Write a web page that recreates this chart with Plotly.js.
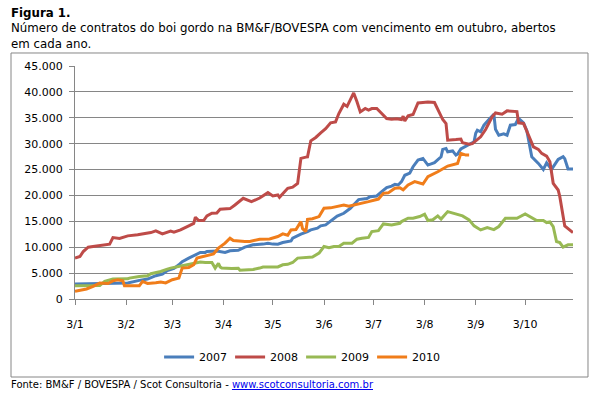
<!DOCTYPE html>
<html><head><meta charset="utf-8">
<script src="https://cdn.plot.ly/plotly-3.0.1.min.js"></script>
<style>html,body{margin:0;padding:0;background:#fff;} #chart{width:595px;height:396px;}</style>
</head><body><div id="chart"></div>
<script>
// Common (overlaid) calendar: day/month of each observation
const dates2007 = ["01-03","01-18","02-04","02-11","02-16","02-21","02-25","02-28","03-04","03-07","03-09","03-13","03-16","03-18","03-20","03-23","03-24","03-30","04-04","04-07","04-12","04-16","04-21","04-27","04-30","05-03","05-06","05-09","05-14","05-15","05-18","05-20","05-24","05-26","05-30","06-01","06-04","06-07","06-11","06-15","06-17","06-19","06-24","06-26","06-29","07-01","07-04","07-05","07-08","07-11","07-14","07-16","07-18","07-20","07-22","07-25","07-27","07-30","08-02","08-05","08-09","08-13","08-14","08-16","08-17","08-20","08-22","08-23","08-25","08-28","08-31","09-02","09-03","09-04","09-06","09-08","09-11","09-12","09-14","09-15","09-17","09-20","09-22","09-24","09-27","09-29","10-02","10-04","10-07","10-11","10-14","10-16","10-19","10-23","10-26","10-27","10-29","11-01"];
const values2007 = [2900,3000,3100,3600,3850,4500,4800,5500,5900,6610,7200,7900,8340,8720,8990,9000,9180,9250,8990,9310,9400,10010,10460,10600,10780,10600,10590,10910,11200,11750,12250,12520,13020,13350,13680,14120,14310,15000,16000,16560,17100,17520,19200,19300,19400,19770,19800,19900,20730,21500,21800,22150,22020,22660,23900,24300,25550,26830,27150,25870,26320,27470,28890,29080,28430,28600,27800,27980,29000,29520,30040,30360,32000,32600,32300,33570,34660,35050,35690,32800,31640,31900,31640,33570,33700,34860,34000,32500,27470,26190,25030,26300,25030,26960,27500,27100,25100,25100];

const dates2008 = ["01-03","01-06","01-08","01-11","01-15","01-24","01-26","01-30","02-04","02-10","02-18","02-21","02-25","03-02","03-04","03-08","03-13","03-16","03-17","03-19","03-22","03-24","03-27","03-30","04-01","04-07","04-10","04-13","04-15","04-20","04-25","04-30","05-03","05-06","05-07","05-12","05-15","05-18","05-20","05-23","05-24","05-26","05-29","06-01","06-04","06-07","06-10","06-12","06-15","06-17","06-21","06-23","06-25","06-28","06-30","07-02","07-05","07-08","07-11","07-14","07-17","07-20","07-21","07-22","07-24","07-27","07-30","08-02","08-05","08-09","08-14","08-16","08-17","08-22","08-25","08-26","08-30","09-01","09-06","09-09","09-13","09-15","09-19","09-22","09-28","09-29","10-02","10-05","10-08","10-11","10-13","10-16","10-18","10-20","10-23","10-24","10-27","11-01"];
const values2008 = [7900,8200,9170,10010,10200,10590,11860,11700,12190,12400,12830,13150,12570,13100,12900,13340,14120,14600,15790,15150,15150,16050,16560,16600,17340,17460,18160,19000,19450,18800,19500,20540,19900,20100,19650,21380,21600,22340,27160,27400,27450,30550,31200,32090,32900,34020,34210,35820,37620,37200,39800,38100,36130,36790,36500,36790,36790,35820,34860,34700,34800,34650,35300,34400,35400,35630,37870,37950,38050,37950,34660,33890,30680,30800,30900,30170,29910,30000,31320,32740,35170,35940,35700,36330,36200,34020,33900,31640,29390,28900,28120,27600,26510,22340,21050,19770,14120,12830];

const dates2009 = ["01-03","01-18","01-21","01-26","02-04","02-05","02-11","02-16","02-18","02-24","02-28","03-02","03-09","03-14","03-17","03-20","03-23","03-27","03-29","03-31","04-01","04-02","04-08","04-12","04-13","04-17","04-21","04-25","04-27","05-06","05-09","05-12","05-15","05-18","05-23","05-27","05-31","06-03","06-06","06-09","06-12","06-15","06-20","06-23","06-26","06-30","07-02","07-06","07-09","07-14","07-19","07-20","07-24","07-27","07-31","08-03","08-05","08-08","08-11","08-13","08-17","08-23","08-26","08-30","09-02","09-06","09-10","09-14","09-17","09-21","09-28","10-03","10-07","10-10","10-14","10-16","10-18","10-20","10-22","10-24","10-26","10-29","11-01"];
const values2009 = [2570,2600,3400,3850,3900,4040,4360,4490,4880,5320,5780,5970,6410,6750,6930,7150,7060,7060,5970,6900,6200,5970,5900,5950,5550,5650,5700,5970,6160,6200,6610,6700,7050,7900,8000,8100,8860,10130,9900,10140,10140,10780,10790,11550,11750,11900,13020,13200,14500,14300,14630,14950,15600,15600,15920,16370,15150,15300,16050,15450,16880,16370,16050,15280,14120,13340,13800,13400,14000,15600,15600,16430,15790,15150,15150,14760,14900,14000,11100,10910,10010,10460,10460];

const dates2010 = ["01-03","01-10","01-14","01-18","01-23","01-26","01-29","02-01","02-02","02-11","02-13","02-16","02-21","02-24","02-27","03-03","03-07","03-09","03-13","03-16","03-18","03-23","03-28","03-31","04-04","04-07","04-09","04-16","04-19","04-25","05-01","05-06","05-09","05-12","05-14","05-17","05-20","05-21","05-23","05-24","05-27","05-31","06-03","06-07","06-10","06-15","06-18","06-24","06-30","07-06","07-09","07-12","07-16","07-19","07-21","07-24","07-28","08-02","08-05","08-11","08-17","08-23","08-25","08-28","08-30"];
const values2010 = [1480,1930,2440,3080,3000,3500,3720,3500,2560,2560,3390,3000,3150,3300,3100,3720,4040,5970,6100,6610,7900,8340,8720,9820,10790,11750,11290,11090,11100,11550,11600,12060,12570,12300,13340,13400,14950,13600,13020,15400,15500,15910,17530,17600,17840,18160,17900,18300,18800,19300,20410,20500,21380,21500,21100,22020,22660,22210,23620,24580,25680,26190,28120,27800,27790];

const seriesNames = ["2007","2008","2009","2010"];
const seriesDates = [dates2007, dates2008, dates2009, dates2010];
const seriesValues = [values2007, values2008, values2009, values2010];
const seriesColors = ["#4A7EBB","#BE4B48","#98B954","#F07D1A"];
const BASE_YEAR = "2010-";

const traces = seriesNames.map((name, i) => ({
  type: 'scatter', mode: 'lines', name: name,
  x: seriesDates[i].map(d => BASE_YEAR + d),
  y: seriesValues[i],
  line: {color: seriesColors[i], width: 3},
  hoverinfo: 'skip'
}));

const FONT = 'DejaVu Sans, Verdana, sans-serif';
const GRID = '#868686';

const layout = {
  width: 595, height: 396,
  margin: {l: 75, r: 22, t: 66, b: 97},
  paper_bgcolor: '#ffffff', plot_bgcolor: '#ffffff',
  separators: ',.',
  font: {family: FONT, size: 11, color: '#000000'},
  showlegend: true,
  xaxis: {
    type: 'date', range: ['2010-01-03', '2010-11-01'],
    tick0: '2010-01-03', dtick: 'M1', tickformat: '%-d/%-m',
    showgrid: false, zeroline: false,
    showline: true, linecolor: GRID, linewidth: 1,
    ticks: 'outside', ticklen: 5, tickcolor: GRID,
    ticklabelstandoff: 10,
    tickfont: {family: FONT, size: 11, color: '#000'}
  },
  yaxis: {
    range: [0, 45000], tick0: 0, dtick: 5000, tickformat: ',d',
    showgrid: true, gridcolor: GRID, gridwidth: 1, zeroline: false,
    showline: true, linecolor: GRID, linewidth: 1,
    ticks: 'outside', ticklen: 5, tickcolor: GRID,
    ticklabelstandoff: 4,
    tickfont: {family: FONT, size: 11, color: '#000'}
  },
  legend: {
    orientation: 'h', x: 0.454, xanchor: 'center', y: -0.249, yanchor: 'middle',
    itemwidth: 30, entrywidth: 26, entrywidthmode: 'pixels',
    font: {family: FONT, size: 11, color: '#000'}, bgcolor: 'rgba(0,0,0,0)'
  },
  shapes: [{
    type: 'rect', xref: 'paper', yref: 'paper',
    x0: -0.1285, x1: 1.0301, y0: -0.3348, y1: 1.0558,
    line: {color: GRID, width: 1}, fillcolor: 'rgba(0,0,0,0)', layer: 'below'
  }],
  annotations: [{
    xref: 'paper', yref: 'paper', x: -0.1325, y: 1.266, xanchor: 'left', yanchor: 'top',
    align: 'left', showarrow: false,
    text: '<b>Figura 1.</b><br>Número de contratos do boi gordo na BM&F/BOVESPA com vencimento em outubro, abertos<br>em cada ano.',
    font: {family: FONT, size: 11.8, color: '#000'}
  }, {
    xref: 'paper', yref: 'paper', x: -0.1325, y: -0.369, xanchor: 'left', yanchor: 'middle',
    align: 'left', showarrow: false,
    text: 'Fonte: BM&F / BOVESPA / Scot Consultoria - <span style="color:#0000ee;text-decoration:underline">www.scotconsultoria.com.br</span>',
    font: {family: FONT, size: 10, color: '#000'}
  }]
};

Plotly.newPlot('chart', traces, layout, {staticPlot: true, displayModeBar: false});
</script>
</body></html>
